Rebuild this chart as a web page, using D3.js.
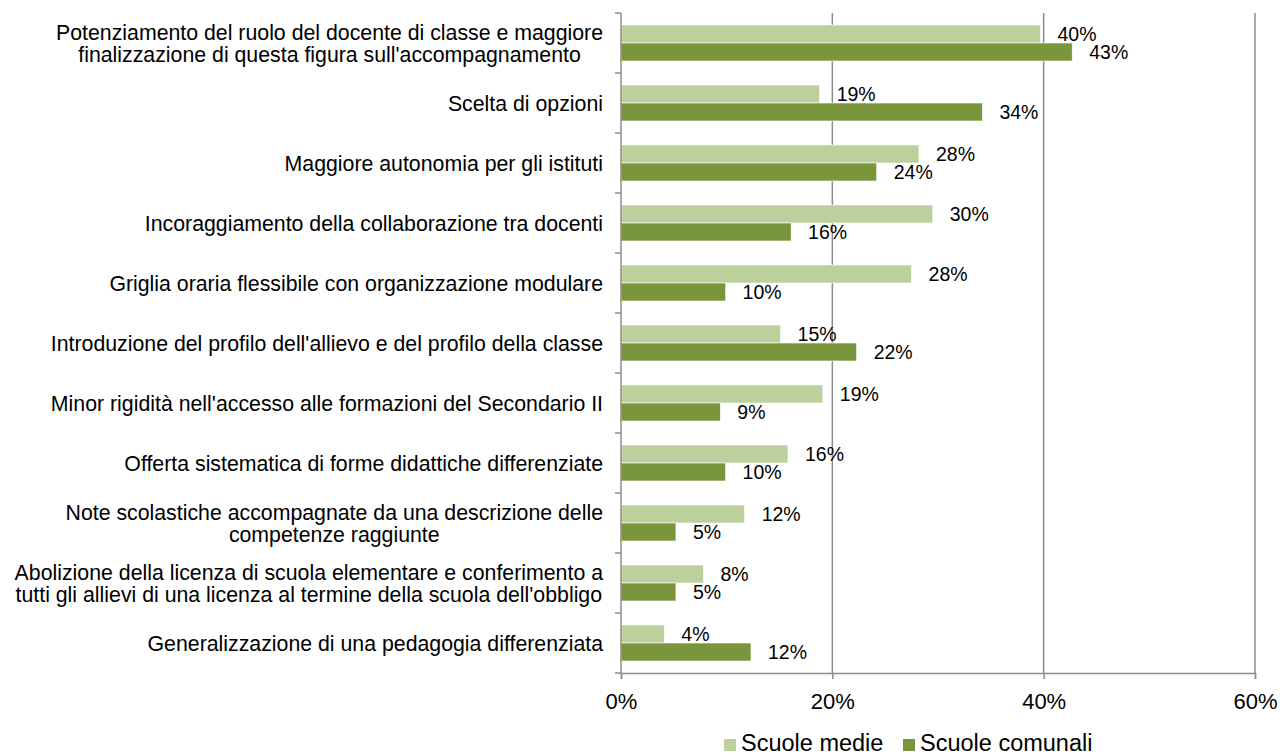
<!DOCTYPE html>
<html>
<head>
<meta charset="utf-8">
<script src="https://cdn.jsdelivr.net/npm/d3@7"></script>
<style>
  body { margin: 0; background: #fff; }
  svg text { font-family: "Liberation Sans", Arial, sans-serif; fill: #000; }
</style>
</head>
<body>
<div id="chart"></div>
<script>
// categories, top to bottom
const categories = [
  ["Potenziamento del ruolo del docente di classe e maggiore", "finalizzazione di questa figura sull'accompagnamento"],
  ["Scelta di opzioni"],
  ["Maggiore autonomia per gli istituti"],
  ["Incoraggiamento della collaborazione tra docenti"],
  ["Griglia oraria flessibile con organizzazione modulare"],
  ["Introduzione del profilo dell'allievo e del profilo della classe"],
  ["Minor rigidità nell'accesso alle formazioni del Secondario II"],
  ["Offerta sistematica di forme didattiche differenziate"],
  ["Note scolastiche accompagnate da una descrizione delle", "competenze raggiunte"],
  ["Abolizione della licenza di scuola elementare e conferimento a", "tutti gli allievi di una licenza al termine della scuola dell'obbligo"],
  ["Generalizzazione di una pedagogia differenziata"]
]
const seriesNames = ["Scuole medie", "Scuole comunali"]
const scuoleMedie = [39.7, 18.8, 28.2, 29.5, 27.5, 15.1, 19.1, 15.8, 11.7, 7.8, 4.1]
const scuoleComunali = [42.7, 34.2, 24.2, 16.1, 9.9, 22.3, 9.4, 9.9, 5.2, 5.2, 12.3]
const xTicks = [0, 20, 40, 60]
const colors = ["#bbd09a", "#7a963c"]

const width = 1280, height = 755
const margin = { top: 13, right: 25, bottom: 82, left: 621 }

const svg = d3.select("#chart").append("svg")
  .attr("width", width)
  .attr("height", height)

const x = d3.scaleLinear().domain([0, 60]).range([margin.left, width - margin.right])
const y = d3.scaleBand()
  .domain(d3.range(categories.length))
  .range([margin.top, height - margin.bottom])
  .paddingInner(0.4)
  .paddingOuter(0.2)
const ySub = d3.scaleBand().domain([0, 1]).range([0, y.bandwidth()])

const rows = categories.map((c, i) => ({ i, label: c, values: [scuoleMedie[i], scuoleComunali[i]] }))

// vertical gridlines
svg.append("g")
  .selectAll("line")
  .data(xTicks.slice(1))
  .join("line")
  .attr("x1", (d) => x(d)).attr("x2", (d) => x(d))
  .attr("y1", margin.top).attr("y2", height - margin.bottom)
  .attr("stroke", "#8c8c8c")
  .attr("stroke-width", 1.5)

// bars
const group = svg.append("g")
  .selectAll("g")
  .data(rows)
  .join("g")
  .attr("transform", (d) => `translate(0,${y(d.i)})`)

group.selectAll("rect")
  .data((d) => d.values.map((v, s) => ({ v, s })))
  .join("rect")
  .attr("x", x(0))
  .attr("y", (d) => ySub(d.s))
  .attr("width", (d) => x(d.v) - x(0))
  .attr("height", ySub.bandwidth())
  .attr("fill", (d) => colors[d.s])
  .attr("stroke", "#fff")
  .attr("stroke-width", 0.6)

// data labels
group.selectAll("text")
  .data((d) => d.values.map((v, s) => ({ v, s })))
  .join("text")
  .attr("x", (d) => x(d.v) + 17)
  .attr("y", (d) => ySub(d.s) + ySub.bandwidth() / 2)
  .attr("dy", "0.36em")
  .style("font-size", "19.5px")
  .text((d) => Math.round(d.v) + "%")

// left axis (category boundaries)
const yAxis = svg.append("g")
yAxis.append("line")
  .attr("x1", x(0)).attr("x2", x(0))
  .attr("y1", margin.top).attr("y2", height - margin.bottom)
  .attr("stroke", "#8c8c8c").attr("stroke-width", 1.5)
yAxis.selectAll("line.tick")
  .data(d3.range(categories.length + 1))
  .join("line")
  .attr("class", "tick")
  .attr("x1", x(0) - 6).attr("x2", x(0))
  .attr("y1", (d) => margin.top + d * y.step())
  .attr("y2", (d) => margin.top + d * y.step())
  .attr("stroke", "#8c8c8c").attr("stroke-width", 1.5)

// category labels: block right-aligned, lines centred inside the block
const lineH = 22
const labelG = svg.append("g")
  .selectAll("text")
  .data(rows)
  .join("text")
  .style("font-size", "21.3px")
  .attr("text-anchor", "middle")

labelG.each(function (d) {
  const t = d3.select(this)
  const cy = y(d.i) + y.bandwidth() / 2
  const n = d.label.length
  d.label.forEach((line, k) => {
    t.append("tspan")
      .attr("y", cy + (k - (n - 1) / 2) * lineH)
      .attr("dy", "0.36em")
      .text(line)
  })
  // widest line sets the block, every line centred in it
  let w = 0
  t.selectAll("tspan").each(function () { w = Math.max(w, this.getComputedTextLength()) })
  t.selectAll("tspan").attr("x", x(0) - 18 - w / 2)
})

// bottom axis
const xAxis = svg.append("g")
  .attr("transform", `translate(0,${height - margin.bottom})`)
  .call(d3.axisBottom(x).tickValues(xTicks).tickSize(6).tickPadding(14).tickFormat((d) => d + "%"))
xAxis.select(".domain").attr("stroke", "#8c8c8c").attr("stroke-width", 1.5)
xAxis.selectAll(".tick line").attr("stroke", "#8c8c8c").attr("stroke-width", 1.5)
xAxis.selectAll(".tick text")
  .style("font-family", "'Liberation Sans', Arial, sans-serif")
  .style("font-size", "22px")
  .attr("fill", "#000")

// legend
const legend = svg.append("g").attr("transform", "translate(724,744)")
const legendItems = legend.selectAll("g")
  .data(seriesNames)
  .join("g")
  .attr("transform", (d, i) => `translate(${i * 179},0)`)
legendItems.append("rect")
  .attr("x", 0).attr("y", -5)
  .attr("width", 12).attr("height", 12)
  .attr("fill", (d, i) => colors[i])
legendItems.append("text")
  .attr("x", 17)
  .attr("y", 0)
  .attr("dy", "0.3em")
  .style("font-size", "23.5px")
  .text((d) => d)
</script>
</body>
</html>
